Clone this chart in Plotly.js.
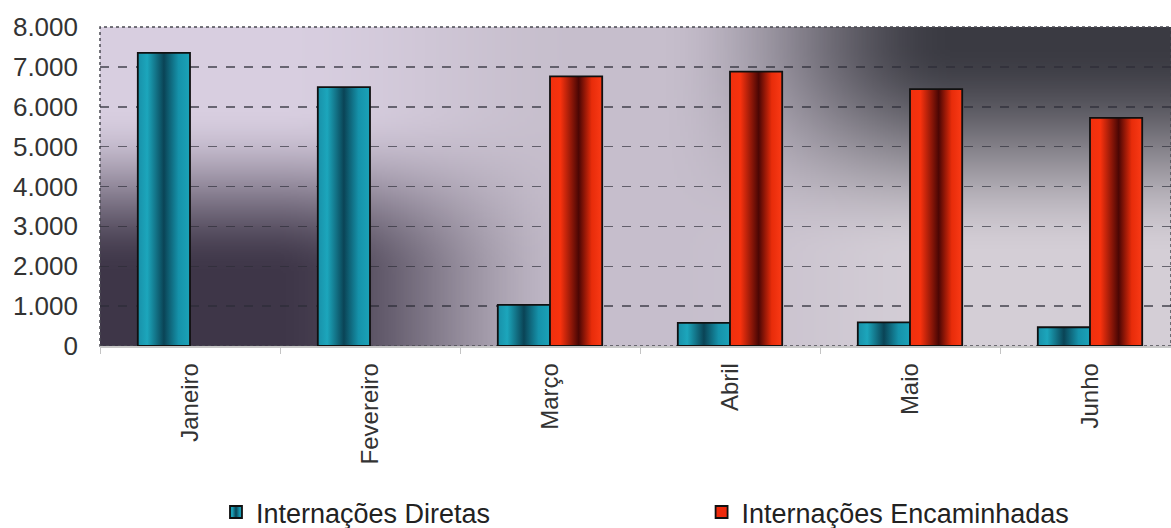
<!DOCTYPE html>
<html>
<head>
<meta charset="utf-8">
<script src="https://cdn.plot.ly/plotly-3.0.1.min.js"></script>
<style>html,body{margin:0;padding:0;background:#fff;}#chart{width:1171px;height:528px;}</style>
</head>
<body>
<div id="chart"></div>
<script>
// ---- data ----
var months = ["Janeiro", "Fevereiro", "Março", "Abril", "Maio", "Junho"];
var diretas = [7350, 6490, 1030, 580, 590, 470];
var encaminhadas = [null, null, 6760, 6880, 6440, 5720];
var seriesNames = ["Internações Diretas", "Internações Encaminhadas"];
var yTicks = [0, 1000, 2000, 3000, 4000, 5000, 6000, 7000, 8000];

// ---- background texture for plot area ----
function smooth(a, b, v) { var t = Math.min(1, Math.max(0, (v - a) / (b - a))); return t * t * (3 - 2 * t); }
function mix(c1, c2, t) { return [c1[0] + (c2[0] - c1[0]) * t, c1[1] + (c2[1] - c1[1]) * t, c1[2] + (c2[2] - c1[2]) * t]; }
function makeBg() {
  var W = 400, H = 160;
  var cv = document.createElement('canvas'); cv.width = W; cv.height = H;
  var ctx = cv.getContext('2d');
  var img = ctx.createImageData(W, H);
  var light = [216, 206, 224], dark = [62, 54, 72], mid = [198, 190, 204];
  var rDark = [58, 58, 66], rLight = [212, 206, 214];
  for (var j = 0; j < H; j++) {
    var y = j / (H - 1);
    for (var i = 0; i < W; i++) {
      var x = i / (W - 1);
      var leftCol = mix(light, dark, smooth(0.25, 0.78, y));
      var rightCol = mix(rDark, rLight, smooth(0.05, 0.72, y));
      var wl = 1 - smooth(0.16, 0.46, x);
      var wr = smooth(0.52, 0.8, x);
      var c = [0, 0, 0];
      for (var k = 0; k < 3; k++) c[k] = mid[k] * (1 - wl - wr) + leftCol[k] * wl + rightCol[k] * wr;
      var p = (j * W + i) * 4;
      img.data[p] = c[0]; img.data[p + 1] = c[1]; img.data[p + 2] = c[2]; img.data[p + 3] = 255;
    }
  }
  ctx.putImageData(img, 0, 0);
  return cv.toDataURL('image/png');
}

var font = "'Liberation Sans', Arial, sans-serif";

var traces = [
  {type: 'bar', name: seriesNames[0], x: months, y: diretas, legend: 'legend',
   marker: {color: '#1a9ab0', line: {color: '#101010', width: 1.8}}},
  {type: 'bar', name: seriesNames[1], x: months, y: encaminhadas, legend: 'legend2',
   marker: {color: '#ee2a0c', line: {color: '#101010', width: 1.8}}}
];

var legendBase = {
  orientation: 'h', xanchor: 'left', y: -0.445, yanchor: 'top',
  font: {size: 27, color: '#222'}, bgcolor: 'rgba(0,0,0,0)'
};

var layout = {
  width: 1171, height: 528,
  margin: {l: 100, r: 0, t: 27, b: 182, autoexpand: false},
  paper_bgcolor: '#ffffff',
  plot_bgcolor: 'rgba(0,0,0,0)',
  separators: ',.',
  barmode: 'group', bargap: 0.42, bargroupgap: 0,
  showlegend: true,
  font: {family: font, color: '#2a2a2a'},
  xaxis: {
    type: 'category', range: [-0.5, 5.45], tickangle: -90,
    tickfont: {size: 24, color: '#333'},
    ticks: 'outside', tickson: 'boundaries', ticklen: 6, tickcolor: '#c4c4c4',
    ticklabelstandoff: 6,
    showline: true, linecolor: '#c8c8c8', linewidth: 1.5, showgrid: false,
    fixedrange: true
  },
  yaxis: {
    range: [0, 8000], tickvals: yTicks, tickformat: ',d',
    tickfont: {size: 26, color: '#333'},
    showgrid: true, gridcolor: 'rgba(45,45,55,0.65)', gridwidth: 1.5, griddash: 'dash',
    zeroline: false, showline: false, ticks: '', ticklabelstandoff: 21,
    fixedrange: true
  },
  legend: Object.assign({}, legendBase, {x: 0.1083}),
  legend2: Object.assign({}, legendBase, {x: 0.5617}),
  images: [{
    source: makeBg(), xref: 'paper', yref: 'paper', x: 0, y: 1, sizex: 1, sizey: 1,
    xanchor: 'left', yanchor: 'top', sizing: 'stretch', layer: 'below'
  }],
  shapes: [{
    type: 'rect', xref: 'paper', yref: 'paper', x0: 0, x1: 1, y0: 0, y1: 1,
    line: {color: '#4a4a52', width: 1.5, dash: 'dot'}, layer: 'below'
  }]
};

var gd = document.getElementById('chart');
Plotly.newPlot(gd, traces, layout, {displayModeBar: false, staticPlot: true}).then(function () {
  var svg = gd.querySelector('svg.main-svg');
  var ns = 'http://www.w3.org/2000/svg';
  var defs = svg.querySelector('defs');
  if (!defs) { defs = document.createElementNS(ns, 'defs'); svg.insertBefore(defs, svg.firstChild); }
  function addGrad(id, stops) {
    var g = document.createElementNS(ns, 'linearGradient');
    g.setAttribute('id', id); g.setAttribute('x1', '0'); g.setAttribute('x2', '1');
    g.setAttribute('y1', '0'); g.setAttribute('y2', '0');
    stops.forEach(function (s) {
      var st = document.createElementNS(ns, 'stop');
      st.setAttribute('offset', s[0]); st.setAttribute('stop-color', s[1]);
      g.appendChild(st);
    });
    defs.appendChild(g);
  }
  addGrad('gBlue', [[0, '#1890a8'], [0.18, '#1ca6bc'], [0.5, '#0a4456'], [0.78, '#1592aa'], [1, '#1ba2b8']]);
  addGrad('gRed', [[0, '#f0300e'], [0.2, '#f8320e'], [0.55, '#4a0604'], [0.8, '#e82c0a'], [1, '#fa3a16']]);
  var ids = ['gBlue', 'gRed'];
  var barTraces = gd.querySelectorAll('.barlayer .trace');
  barTraces.forEach(function (t, i) {
    t.querySelectorAll('.point path').forEach(function (p) { p.style.fill = 'url(#' + ids[i] + ')'; });
  });
  gd.querySelectorAll('.legend').forEach(function (lg, i) {
    lg.querySelectorAll('.legendpoints path').forEach(function (p) { p.style.fill = 'url(#' + ids[i] + ')'; });
  });
});
</script>
</body>
</html>
